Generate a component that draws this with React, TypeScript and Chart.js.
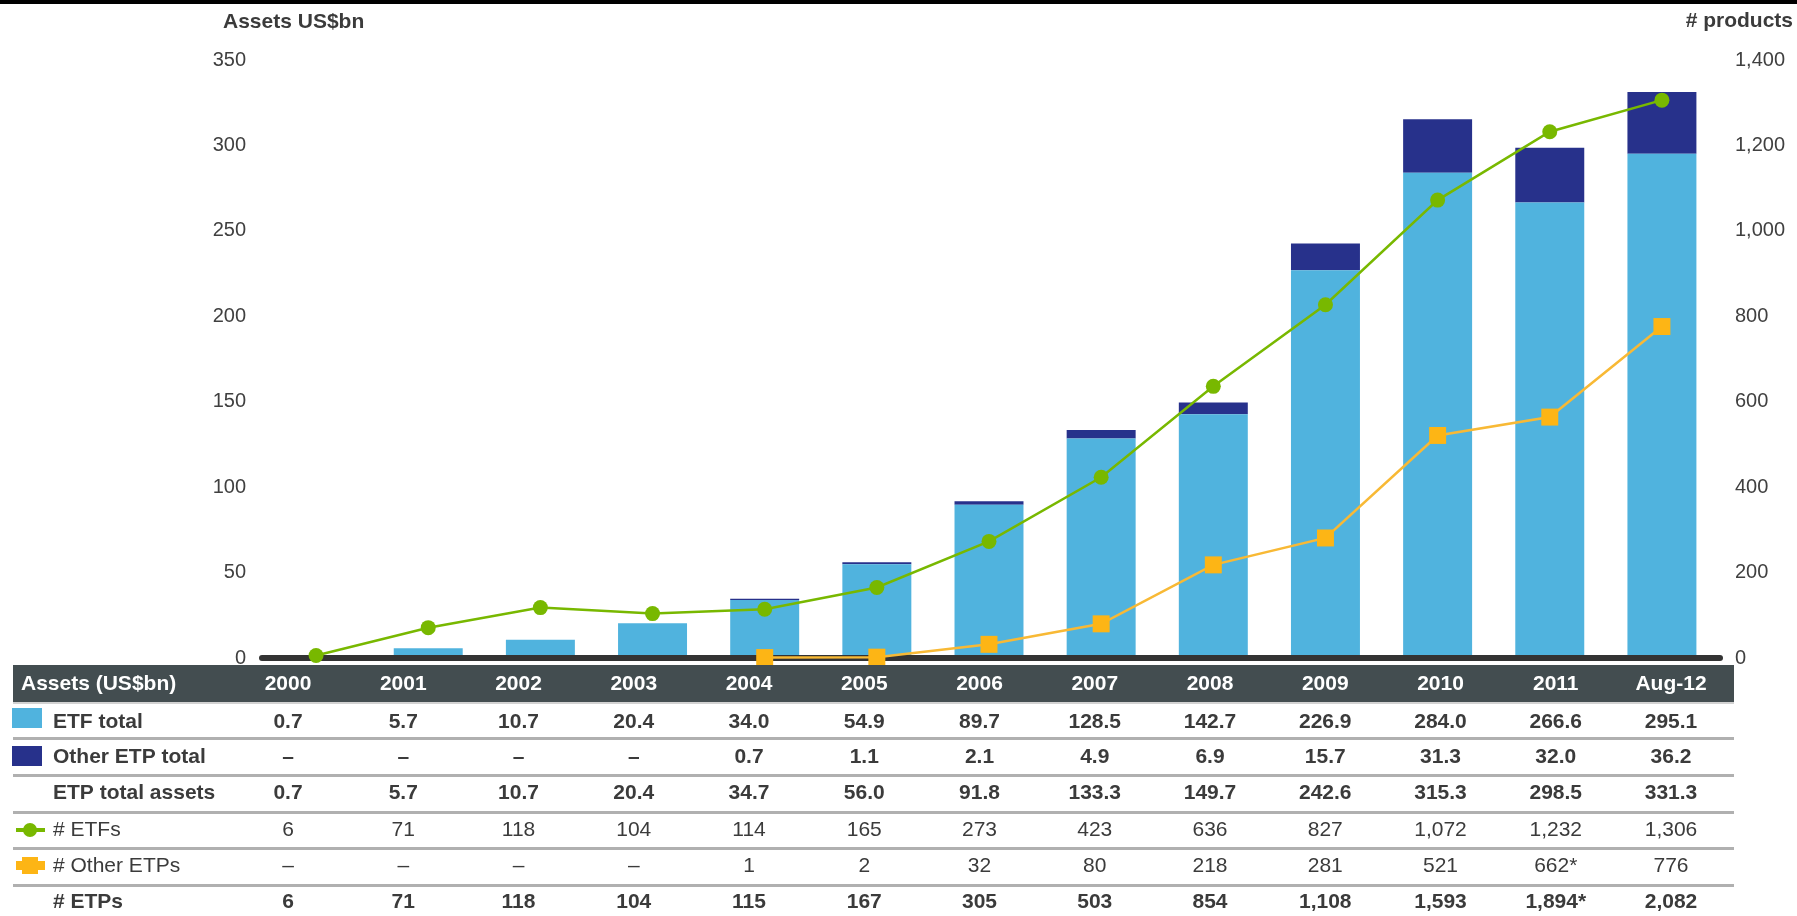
import React, { useEffect, useRef } from 'react';
import { Chart, registerables } from 'chart.js';

Chart.register(...registerables);

const categories = ['2000', '2001', '2002', '2003', '2004', '2005', '2006', '2007', '2008', '2009', '2010', '2011', 'Aug-12'];
const etfTotal = [0.7, 5.7, 10.7, 20.4, 34.0, 54.9, 89.7, 128.5, 142.7, 226.9, 284.0, 266.6, 295.1];
const otherEtpTotal = [null, null, null, null, 0.7, 1.1, 2.1, 4.9, 6.9, 15.7, 31.3, 32.0, 36.2];
const etpTotalAssets = [0.7, 5.7, 10.7, 20.4, 34.7, 56.0, 91.8, 133.3, 149.7, 242.6, 315.3, 298.5, 331.3];
const numEtfs = [6, 71, 118, 104, 114, 165, 273, 423, 636, 827, 1072, 1232, 1306];
const numOtherEtpsPlotted = [null, null, null, null, 1, 2, 32, 80, 218, 281, 521, 564, 776];
const numOtherEtpsLabels = ['–', '–', '–', '–', '1', '2', '32', '80', '218', '281', '521', '662*', '776'];
const numEtpsLabels = ['6', '71', '118', '104', '115', '167', '305', '503', '854', '1,108', '1,593', '1,894*', '2,082'];

const leftAxisTitle = 'Assets US$bn';
const rightAxisTitle = '# products';
const tableHeaderTitle = 'Assets (US$bn)';

const FONT = '"Liberation Sans", Arial, Helvetica, sans-serif';
const C_ETF = '#50b3de';
const C_OTHER = '#27318b';
const C_GREEN = '#78b800';
const C_ORANGE = '#fdb515';
const C_ORANGE_LINE = '#f8b935';
const C_TEXT = '#3b3b3b';

const W = 1797;
const H = 916;

const fmt1 = (v: number | null) => (v == null ? '–' : v.toFixed(1));
const fmtInt = (v: number | null) => (v == null ? '–' : v.toLocaleString('en-US'));

const tablePlugin = {
  id: 'tablePlugin',
  beforeDatasetsDraw(chart: any) {
    chart.$baselineDrawn = false;
  },
  beforeDatasetDraw(chart: any, args: any) {
    if (args.meta.type === 'line' && !chart.$baselineDrawn) {
      chart.$baselineDrawn = true;
      const ctx = chart.ctx;
      const a = chart.chartArea;
      ctx.save();
      ctx.strokeStyle = '#333333';
      ctx.lineWidth = 6;
      ctx.lineCap = 'round';
      ctx.beginPath();
      ctx.moveTo(a.left + 2, a.bottom);
      ctx.lineTo(a.right + 2, a.bottom);
      ctx.stroke();
      ctx.restore();
    }
  },
  afterDraw(chart: any) {
    const ctx = chart.ctx;
    ctx.save();
    // top black strip
    ctx.fillStyle = '#000000';
    ctx.fillRect(0, 0, W, 4);

    // axis titles
    ctx.fillStyle = C_TEXT;
    ctx.font = `bold 21px ${FONT}`;
    ctx.textBaseline = 'middle';
    ctx.textAlign = 'left';
    ctx.fillText(leftAxisTitle, 223, 22);
    ctx.textAlign = 'right';
    ctx.fillText(rightAxisTitle, 1793, 21);

    // table
    const tLeft = 13;
    const tRight = 1734;
    const colX = (i: number) => 288 + i * 115.25;

    ctx.fillStyle = '#434d50';
    ctx.fillRect(tLeft, 665, tRight - tLeft, 37);
    ctx.fillStyle = '#d2d2d2';
    ctx.fillRect(tLeft, 702, tRight - tLeft, 2);

    ctx.fillStyle = '#ffffff';
    ctx.font = `bold 21px ${FONT}`;
    ctx.textAlign = 'left';
    ctx.fillText(tableHeaderTitle, 21, 684);
    ctx.textAlign = 'center';
    categories.forEach((c, i) => ctx.fillText(c, colX(i), 684));

    const seps = [738, 775, 812, 848, 885];
    ctx.fillStyle = '#b0b0b0';
    seps.forEach((y) => ctx.fillRect(tLeft, y - 1, tRight - tLeft, 3));

    const rows = [
      { label: 'ETF total', y: 722, bold: true, values: etfTotal.map(fmt1) },
      { label: 'Other ETP total', y: 757, bold: true, values: otherEtpTotal.map(fmt1) },
      { label: 'ETP total assets', y: 793, bold: true, values: etpTotalAssets.map(fmt1) },
      { label: '# ETFs', y: 830, bold: false, values: numEtfs.map(fmtInt) },
      { label: '# Other ETPs', y: 866, bold: false, values: numOtherEtpsLabels },
      { label: '# ETPs', y: 902, bold: true, values: numEtpsLabels },
    ];
    rows.forEach((r) => {
      ctx.fillStyle = C_TEXT;
      ctx.font = `${r.bold ? 'bold ' : ''}21px ${FONT}`;
      ctx.textAlign = 'left';
      ctx.fillText(r.label, 53, r.y);
      ctx.textAlign = 'center';
      r.values.forEach((v, i) => ctx.fillText(v, colX(i), r.y));
    });

    // legend icons
    ctx.fillStyle = C_ETF;
    ctx.fillRect(12, 708, 30, 20);
    ctx.fillStyle = C_OTHER;
    ctx.fillRect(12, 746, 30, 20);

    ctx.strokeStyle = C_GREEN;
    ctx.lineWidth = 4;
    ctx.beginPath();
    ctx.moveTo(16, 830);
    ctx.lineTo(45, 830);
    ctx.stroke();
    ctx.fillStyle = C_GREEN;
    ctx.beginPath();
    ctx.arc(30, 830, 7, 0, Math.PI * 2);
    ctx.fill();

    ctx.fillStyle = C_ORANGE;
    ctx.fillRect(16, 861, 29, 9);
    ctx.fillRect(22, 857, 16, 17);

    ctx.restore();
  },
};

export default function App() {
  const ref = useRef<HTMLCanvasElement | null>(null);

  useEffect(() => {
    const canvas = ref.current;
    if (!canvas) return;
    const chart = new Chart(canvas, {
      type: 'bar',
      data: {
        labels: categories,
        datasets: [
          {
            type: 'bar',
            label: 'ETF total',
            data: etfTotal,
            backgroundColor: C_ETF,
            borderWidth: 0,
            yAxisID: 'y',
            stack: 'assets',
            order: 2,
            categoryPercentage: 1,
            barPercentage: 0.615,
          } as any,
          {
            type: 'bar',
            label: 'Other ETP total',
            data: otherEtpTotal,
            backgroundColor: C_OTHER,
            borderWidth: 0,
            yAxisID: 'y',
            stack: 'assets',
            order: 2,
            categoryPercentage: 1,
            barPercentage: 0.615,
          } as any,
          {
            type: 'line',
            label: '# ETFs',
            data: numEtfs,
            borderColor: C_GREEN,
            backgroundColor: C_GREEN,
            borderWidth: 2.5,
            pointRadius: 7.5,
            pointStyle: 'circle',
            pointBorderWidth: 0,
            yAxisID: 'y1',
            order: 1,
            tension: 0,
            clip: false,
          } as any,
          {
            type: 'line',
            label: '# Other ETPs',
            data: numOtherEtpsPlotted,
            borderColor: C_ORANGE_LINE,
            backgroundColor: C_ORANGE,
            borderWidth: 2.5,
            pointRadius: 12,
            pointStyle: 'rect',
            pointBorderWidth: 0,
            yAxisID: 'y1',
            order: 1,
            tension: 0,
            clip: false,
          } as any,
        ],
      },
      options: {
        responsive: false,
        animation: false,
        devicePixelRatio: 1,
        layout: { padding: { top: 60, bottom: 258, left: 0, right: 0 } },
        plugins: {
          legend: { display: false },
          tooltip: { enabled: false },
          title: { display: false },
        },
        scales: {
          x: {
            display: false,
            stacked: true,
            offset: true,
            grid: { display: false },
          },
          y: {
            position: 'left',
            stacked: true,
            min: 0,
            max: 350,
            grid: { display: false, drawTicks: false },
            border: { display: false },
            ticks: {
              stepSize: 50,
              padding: 14,
              color: '#404040',
              font: { family: FONT, size: 20 },
            },
            afterFit: (s: any) => {
              s.width = 260;
            },
          },
          y1: {
            position: 'right',
            stacked: false,
            min: 0,
            max: 1400,
            grid: { display: false, drawTicks: false },
            border: { display: false },
            ticks: {
              stepSize: 200,
              padding: 17,
              color: '#404040',
              font: { family: FONT, size: 20 },
              callback: (v: any) => Number(v).toLocaleString('en-US'),
            },
            afterFit: (s: any) => {
              s.width = W - 1718;
            },
          },
        },
      } as any,
      plugins: [tablePlugin],
    });
    return () => chart.destroy();
  }, []);

  return (
    <div style={{ position: 'fixed', left: 0, top: 0, width: W, height: H, background: '#ffffff' }}>
      <canvas ref={ref} width={W} height={H} style={{ display: 'block', width: W, height: H }} />
    </div>
  );
}
